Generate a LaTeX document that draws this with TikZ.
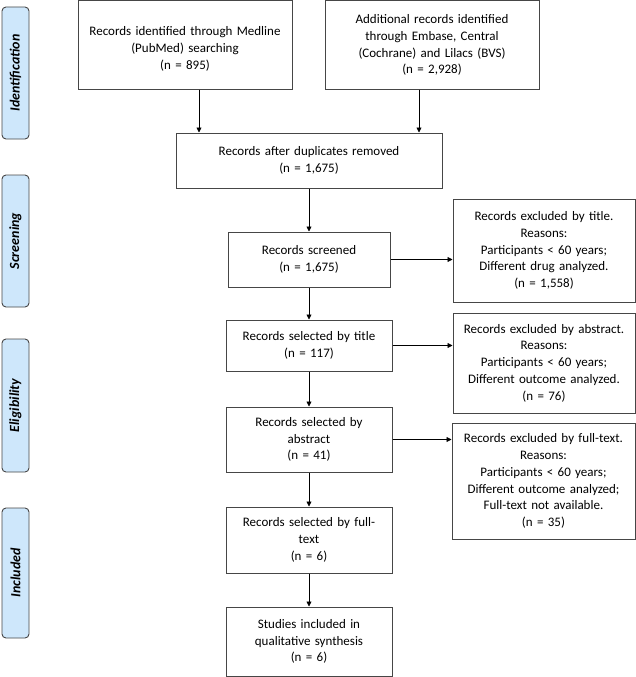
\documentclass[tikz,border=0pt]{standalone}
\usepackage{fontspec}
\setmainfont{Carlito}
\usetikzlibrary{arrows.meta}
\definecolor{lblfill}{RGB}{206,231,251}
\definecolor{boxline}{RGB}{70,70,70}
\begin{document}
\begin{tikzpicture}[x=1pt,y=-1pt,
  box/.style={draw=boxline,line width=1pt,fill=white,inner sep=0pt,align=center,
    font=\fontsize{13}{16.8}\selectfont},
  lbl/.style={draw=boxline,line width=0.9pt,fill=lblfill,rounded corners=4pt,inner sep=0pt,
    minimum width=27pt,font=\fontsize{14}{16}\selectfont\bfseries\itshape},
  arr/.style={line width=0.8pt,-{Triangle[length=5pt,width=5pt]}}]
\useasboundingbox (0,0) rectangle (636,677);
% phase labels
\node[lbl,minimum height=132pt] (lid) at (15.5,73) {\rotatebox{90}{Identification}};
\node[lbl,minimum height=132pt] (lsc) at (15.5,241) {\rotatebox{90}{Screening}};
\node[lbl,minimum height=133pt] (lel) at (15.5,405.5) {\rotatebox{90}{Eligibility}};
\node[lbl,minimum height=130pt] (lin) at (15.5,573) {\rotatebox{90}{Included}};
% main boxes
\node[box,minimum width=214pt,minimum height=88pt,text width=210pt] (A) at (185,45)
  {\mbox{}\\Records identified through Medline\\(PubMed) searching\\(n = 895)};
\node[box,minimum width=214pt,minimum height=88pt,text width=210pt] (B) at (432,45)
  {Additional records identified\\through Embase, Central\\(Cochrane) and Lilacs (BVS)\\(n = 2,928)};
\node[box,minimum width=266pt,minimum height=55pt,text width=260pt] (C) at (309,160.5)
  {Records after duplicates removed\\(n = 1,675)};
\node[box,minimum width=162pt,minimum height=55pt,text width=158pt] (S) at (309,259.5)
  {Records screened\\(n = 1,675)};
\node[box,minimum width=166pt,minimum height=51pt,text width=162pt] (T) at (309,345.5)
  {Records selected by title\\(n = 117)};
\node[box,minimum width=166pt,minimum height=65pt,text width=162pt] (Ab) at (309,439.5)
  {Records selected by\\abstract\\(n = 41)};
\node[box,minimum width=166pt,minimum height=66pt,text width=162pt] (F) at (309,540)
  {Records selected by full-\\text\\(n = 6)};
\node[box,minimum width=166pt,minimum height=69pt,text width=162pt] (I) at (309,641.5)
  {Studies included in\\qualitative synthesis\\(n = 6)};
% exclusion boxes
\node[box,minimum width=182pt,minimum height=103pt,text width=178pt] (E1) at (544,250.5)
  {Records excluded by title.\\Reasons:\\Participants < 60 years;\\Different drug analyzed.\\(n = 1,558)};
\node[box,minimum width=182pt,minimum height=100pt,text width=178pt] (E2) at (544,363)
  {Records excluded by abstract.\\Reasons:\\Participants < 60 years;\\Different outcome analyzed.\\(n = 76)};
\node[box,minimum width=183pt,minimum height=116pt,text width=179pt] (E3) at (543.5,481)
  {Records excluded by full-text.\\Reasons:\\Participants < 60 years;\\Different outcome analyzed;\\Full-text not available.\\(n = 35)};
% connectors
\coordinate (ca) at (199,0);
\coordinate (cb) at (419,0);
\draw[arr] (A.south -| ca) -- (C.north -| ca);
\draw[arr] (B.south -| cb) -- (C.north -| cb);
\draw[arr] (C) -- (S);
\draw[arr] (S) -- (T);
\draw[arr] (T) -- (Ab);
\draw[arr] (Ab) -- (F);
\draw[arr] (F) -- (I);
\draw[arr] (S.east) -- (S.east -| E1.west);
\draw[arr] (T.east) -- (T.east -| E2.west);
\draw[arr] (Ab.east) -- (Ab.east -| E3.west);
\end{tikzpicture}
\end{document}
